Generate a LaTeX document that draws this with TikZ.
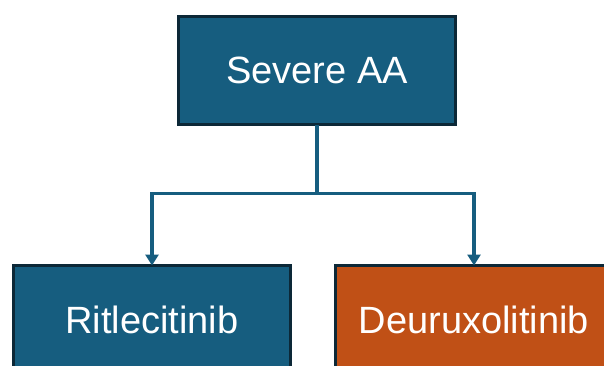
\documentclass[tikz,border=0pt]{standalone}
\usepackage{fontspec}
\setmainfont{Liberation Sans}
\usetikzlibrary{positioning,arrows.meta}

\definecolor{boxblue}{RGB}{22,93,127}
\definecolor{boxorange}{RGB}{192,80,22}
\definecolor{boxedge}{RGB}{12,40,55}

\begin{document}
\begin{tikzpicture}
[every node/.style={draw=boxedge,line width=2.2pt,minimum width=277pt,minimum height=108pt,
                    inner sep=0pt,outer sep=0pt,text=white,font=\fontsize{38}{41}\selectfont},
 blue/.style={rectangle,fill=boxblue},
 orange/.style={rectangle,fill=boxorange},
 link/.style={draw=boxblue,line width=3.6pt},
 arr/.style={link,-{Triangle[length=11pt,width=13pt]}}]
\clip (0,0) rectangle (604pt,365pt);
\useasboundingbox (0,0) rectangle (604pt,365pt);

\node[blue]   (aa)  at (317pt,294.5pt)                          {Severe AA};
\node[blue]   (rit) [on grid,below  left=249pt and 165pt of aa] {Ritlecitinib};
\node[orange] (deu) [on grid,below right=249pt and 157pt of aa] {Deuruxolitinib};

% split point under the top box
\coordinate (fork) at ([yshift=-69pt]aa.south);
\path[link] (aa.south) edge (fork);
\draw[arr] (fork) -| (rit.north);
\draw[arr] (fork) -| (deu.north);
\end{tikzpicture}
\end{document}
